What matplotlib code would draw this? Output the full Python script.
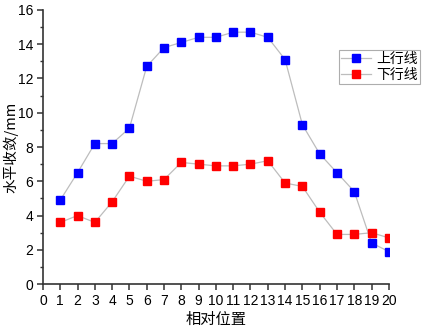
import matplotlib
matplotlib.use('Agg')
import matplotlib.pyplot as plt
from matplotlib.ticker import MultipleLocator

plt.rcParams['font.family'] = ['Liberation Sans', 'Noto Sans CJK SC', 'DejaVu Sans']

pos = list(range(1, 21))
up = [4.9, 6.5, 8.2, 8.2, 9.1, 12.7, 13.8, 14.1, 14.4, 14.4,
      14.7, 14.7, 14.4, 13.1, 9.3, 7.6, 6.5, 5.4, 2.4, 1.9]
down = [3.6, 4.0, 3.6, 4.8, 6.3, 6.0, 6.1, 7.1, 7.0, 6.9,
        6.9, 7.0, 7.2, 5.9, 5.7, 4.2, 2.9, 2.9, 3.0, 2.7]

fig = plt.figure(figsize=(4.25, 3.3), dpi=100)
ax = fig.add_axes([0.101, 0.139, 0.814, 0.831])

ax.plot(pos, up, color='#bdbdbd', lw=0.9, marker='s', ms=5.3,
        mfc='#0000ff', mec='#0000ff', label='上行线')
ax.plot(pos, down, color='#bdbdbd', lw=0.9, marker='s', ms=5.3,
        mfc='#ff0000', mec='#ff0000', label='下行线')

ax.set_xlim(0, 20)
ax.set_ylim(0, 16)
ax.xaxis.set_major_locator(MultipleLocator(1))
ax.yaxis.set_major_locator(MultipleLocator(2))
ax.yaxis.set_minor_locator(MultipleLocator(1))
ax.spines['top'].set_visible(False)
ax.spines['right'].set_visible(False)
for s in ['left', 'bottom']:
    ax.spines[s].set_linewidth(1.2)
    ax.spines[s].set_color('#333333')
ax.tick_params(direction='out', labelsize=10, width=1.1, length=4, colors='#333333', labelcolor='black', pad=3)
ax.tick_params(which='minor', direction='out', length=2.5, width=1.0, colors='#333333')

ax.set_xlabel('相对位置', fontsize=11, family=['Noto Sans CJK SC'], labelpad=2)
ax.set_ylabel('水平收敛/mm', fontsize=10.5, family=['Noto Sans CJK SC'])
ax.yaxis.set_label_coords(-0.07, 0.5)

# legend sits partly outside the axes, like the original
leg = ax.legend(loc='upper left', bbox_to_anchor=(0.855, 0.855),
                prop={'family': ['Noto Sans CJK SC'], 'size': 10},
                frameon=True, fancybox=False, edgecolor='#999999',
                handlelength=2.2, handletextpad=0.35, borderpad=0.15,
                labelspacing=0.15, borderaxespad=0)
leg.get_frame().set_linewidth(0.8)

fig.savefig('out.png', dpi=100)
